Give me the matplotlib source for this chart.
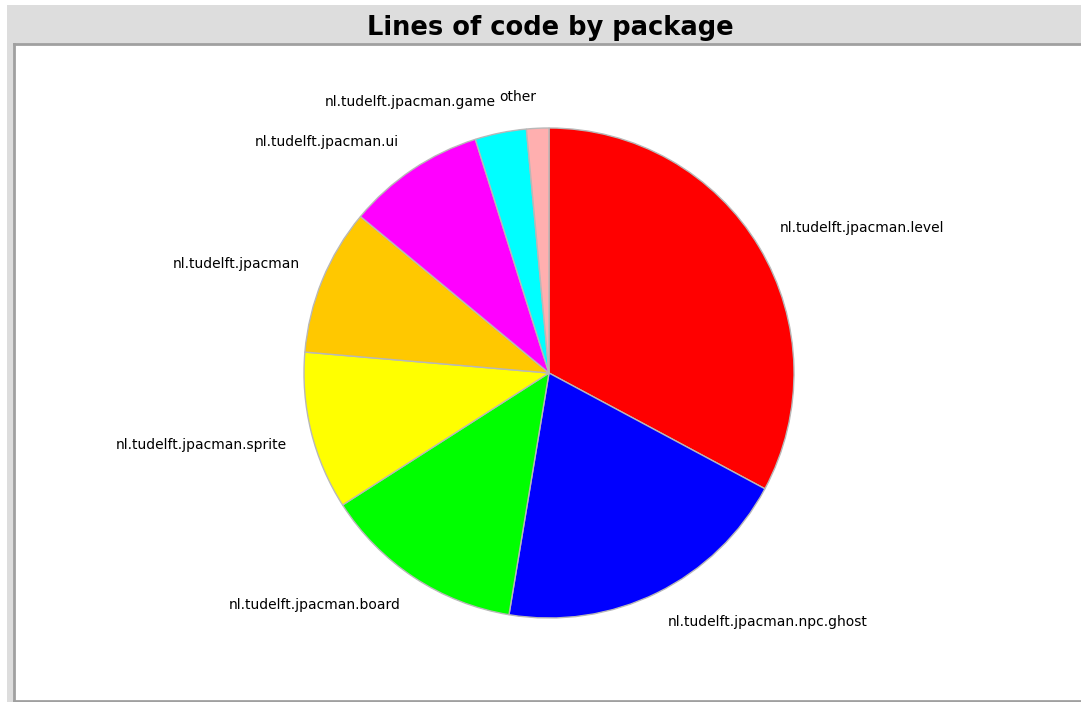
import matplotlib.pyplot as plt
from matplotlib.patches import Rectangle

# lines of code per package
packages = ['nl.tudelft.jpacman.level', 'nl.tudelft.jpacman.npc.ghost',
            'nl.tudelft.jpacman.board', 'nl.tudelft.jpacman.sprite',
            'nl.tudelft.jpacman', 'nl.tudelft.jpacman.ui',
            'nl.tudelft.jpacman.game', 'other']
loc = [1182, 712, 480, 375, 348, 328, 122, 53]
colors = ['#ff0000', '#0000ff', '#00ff00', '#ffff00',
          '#ffc800', '#ff00ff', '#00ffff', '#ffafaf']

W, H = 1081, 702
fig = plt.figure(figsize=(W / 100, H / 100), dpi=100)
fig.patch.set_facecolor('white')

# grey panel behind the title and chart
fig.patches.append(Rectangle((7 / W, 0), 1, 1 - 5 / H, transform=fig.transFigure,
                             facecolor='#dddddd', edgecolor='none', zorder=-5))
fig.text(550 / W, 1 - 35 / H, 'Lines of code by package', ha='center', va='baseline',
         fontsize=18.5, fontweight='bold', family='DejaVu Sans')

# plot area, one data unit per pixel
left, top, bottom = 14, 44, 701
ax = fig.add_axes([left / W, (H - bottom) / H, (1090 - left) / W, (bottom - top) / H])
ax.set_zorder(2)

cx, cy = 549, H - 373
wedges, texts = ax.pie(loc, labels=packages, colors=colors, startangle=90,
                       counterclock=False, center=(cx, cy), radius=245,
                       labeldistance=1.1, frame=True,
                       wedgeprops=dict(edgecolor='#b8b8b8', linewidth=1),
                       textprops=dict(fontsize=10, family='DejaVu Sans'))
ax.set_facecolor('white')
ax.set_xlim(left, 1090)
ax.set_ylim(H - bottom, H - top)
ax.set_aspect('auto')
ax.set_xticks([])
ax.set_yticks([])
for s in ax.spines.values():
    s.set_visible(True)
    s.set_color('#a0a0a0')
    s.set_linewidth(2)

# labels sit outside the rim, pushed away from the centre
for t in texts:
    x, y = t.get_position()
    t.set_ha('left' if x > cx else 'right')
    t.set_va('bottom' if y > cy else 'top')

fig.savefig('out.png', dpi=100)
